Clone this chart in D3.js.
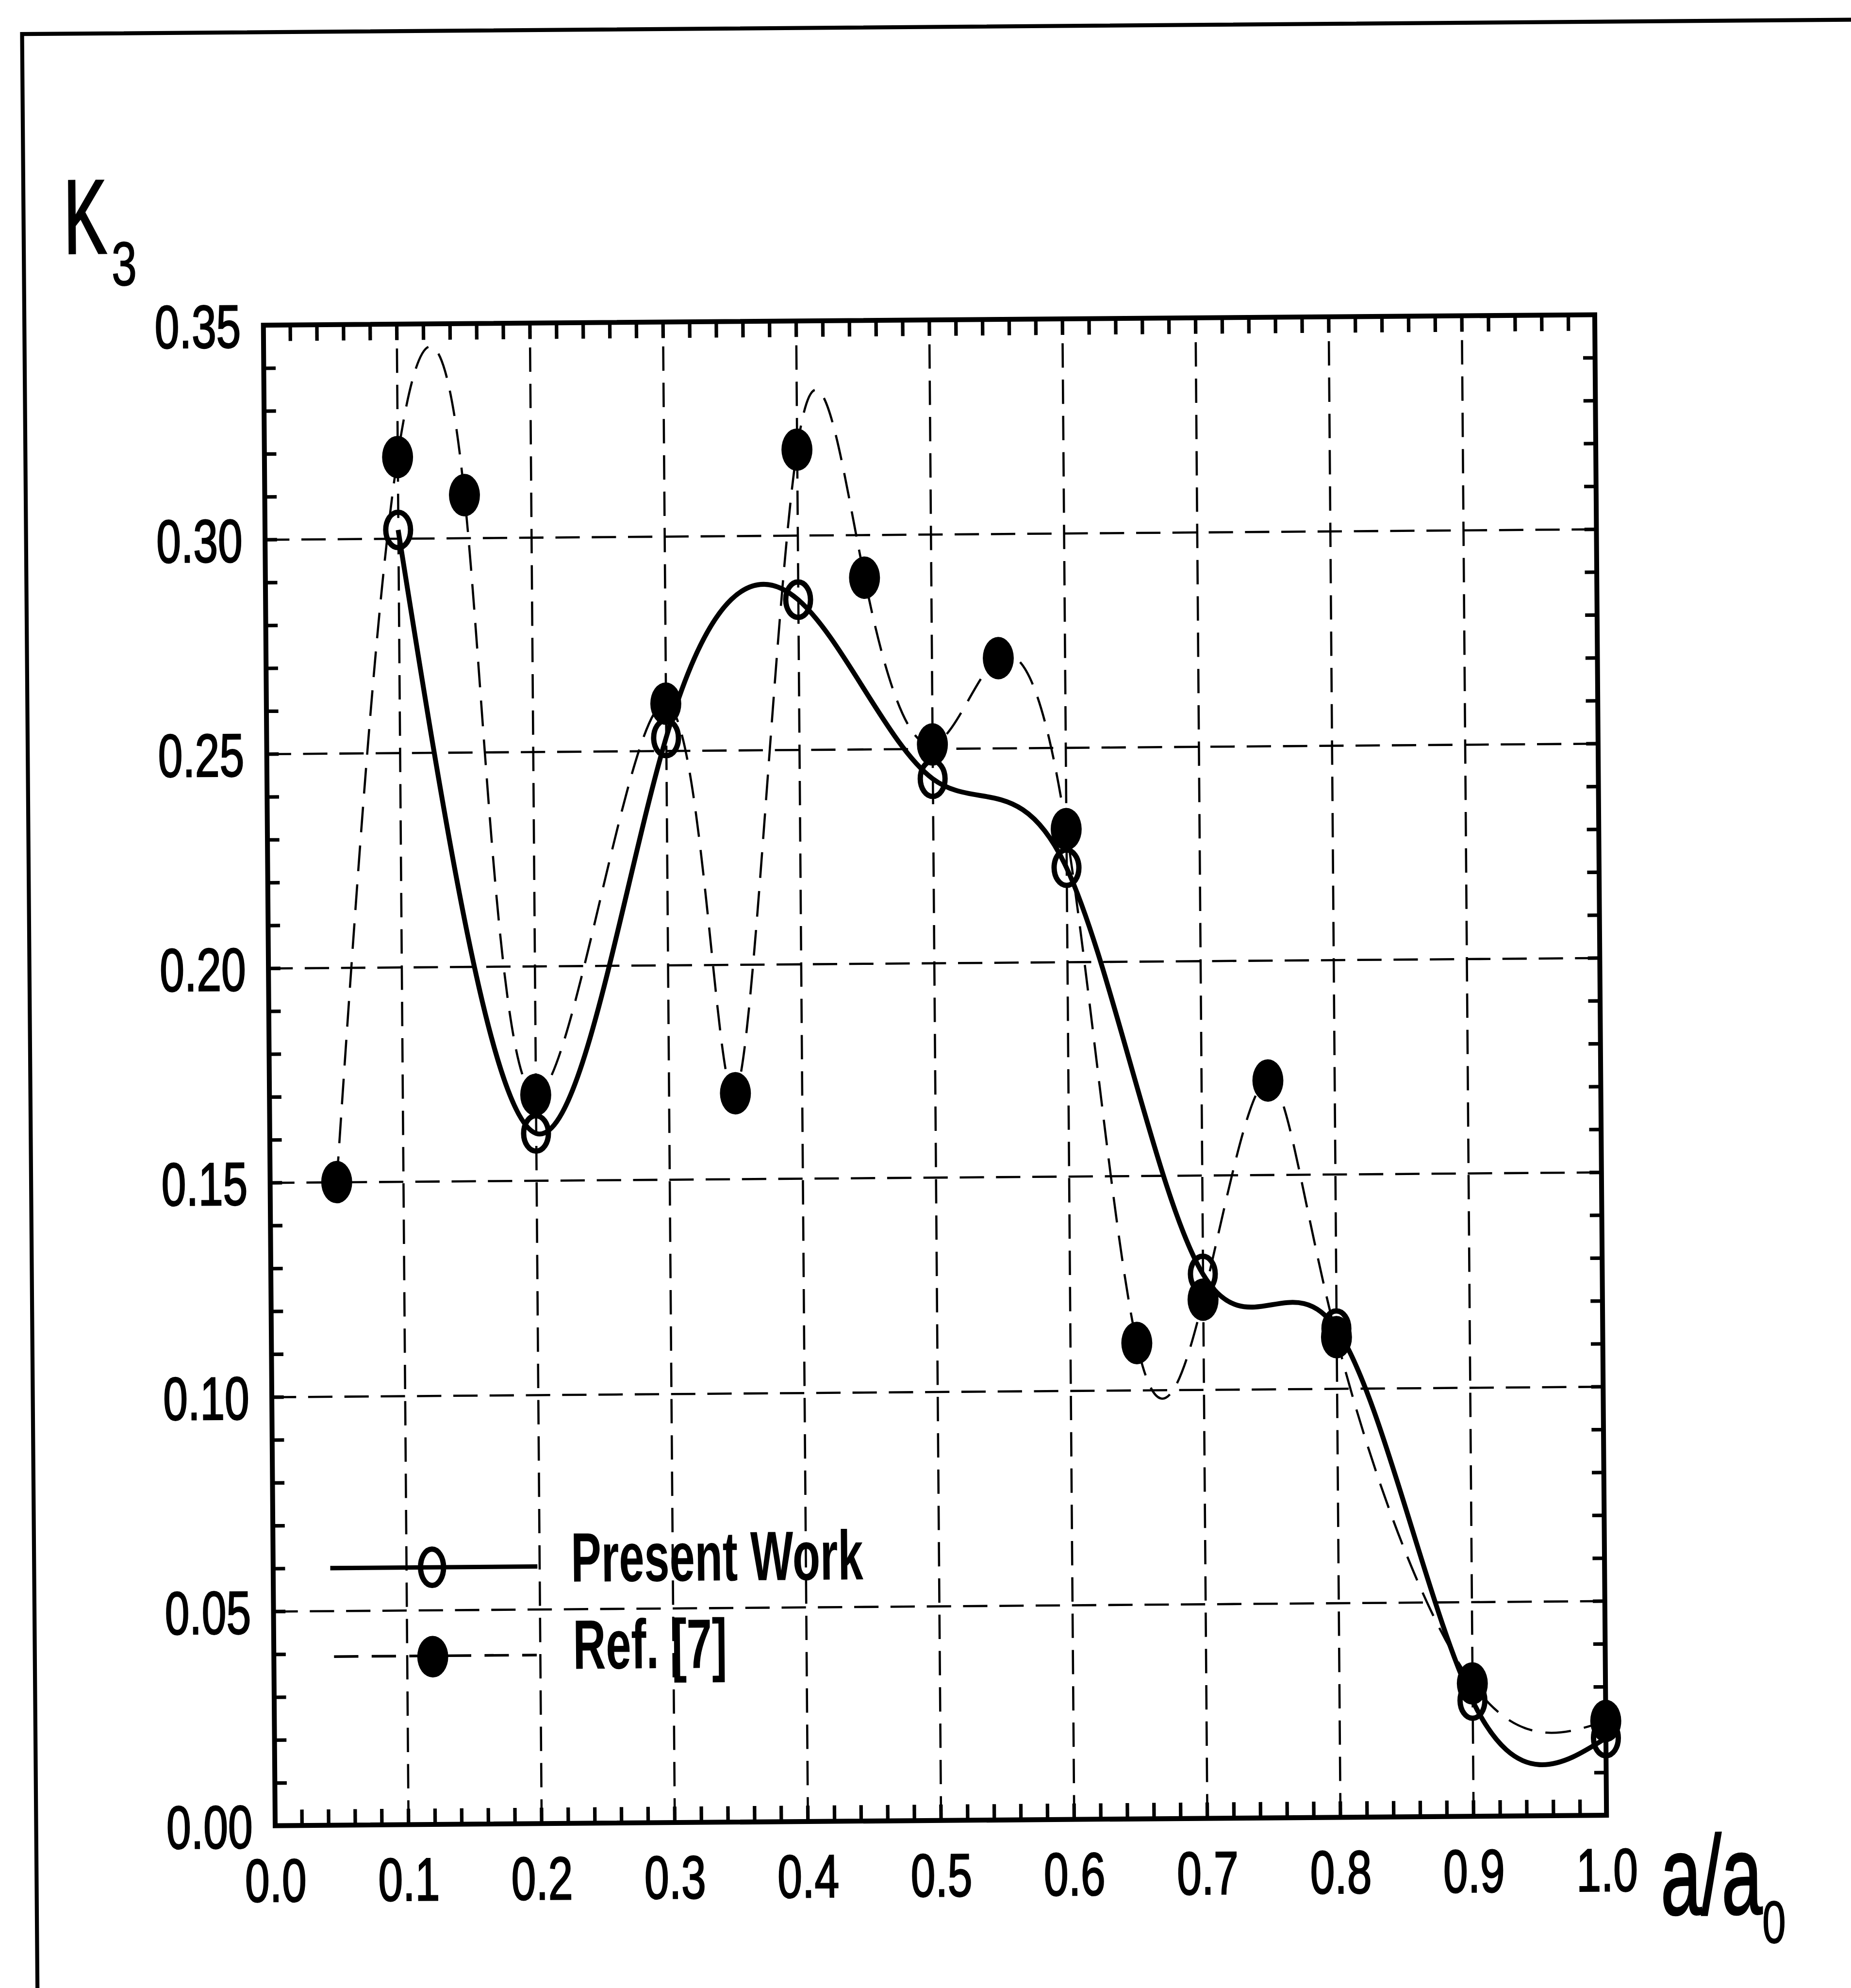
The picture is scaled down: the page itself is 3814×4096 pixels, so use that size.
<!DOCTYPE html>
<html>
<head>
<meta charset="utf-8">
<script src="https://cdn.jsdelivr.net/npm/d3@7"></script>
<style>
  html, body { margin: 0; padding: 0; background: #fff; }
  svg { display: block; }
  text { font-family: "Liberation Sans", Arial, Helvetica, sans-serif; fill: #000; }
</style>
</head>
<body>
<script>
// ---- data ----
const xTickLabels = ["0.0","0.1","0.2","0.3","0.4","0.5","0.6","0.7","0.8","0.9","1.0"];
const yTickLabels = ["0.00","0.05","0.10","0.15","0.20","0.25","0.30","0.35"];

const presentX  = [0.1, 0.2, 0.3, 0.4, 0.5, 0.6, 0.7, 0.8, 0.9, 1.0];
const presentK3 = [0.302, 0.161, 0.253, 0.285, 0.243, 0.222, 0.127, 0.114, 0.027, 0.018];

const refX  = [0.05, 0.1, 0.15, 0.2, 0.3, 0.35, 0.4, 0.45, 0.5, 0.55, 0.6, 0.65, 0.7, 0.75, 0.8, 0.9, 1.0];
const refK3 = [0.150, 0.319, 0.310, 0.170, 0.261, 0.170, 0.320, 0.290, 0.251, 0.271, 0.231, 0.111, 0.121, 0.172, 0.112, 0.031, 0.022];

const legendLabels = ["Present Work", "Ref. [7]"];
const yTitle = "K", yTitleSub = "3";
const xTitle = "a/a", xTitleSub = "0";

// ---- layout (reference pixel units, scaled to the window) ----
const S = 0.912;
const X0 = 607, X1 = 3615, Y0 = 723, Y1 = 4113;

const svg = d3.select("body").append("svg")
  .attr("width", 3814).attr("height", 4096);
const root = svg.append("g").attr("transform", `scale(${S})`);
root.append("rect").attr("x", 0).attr("y", 0).attr("width", 4180).attr("height", 4489).attr("fill", "#fff");
const g = root.append("g").attr("transform", "rotate(-0.45 2090 2244)");

// outer frame (scan border)
g.append("path")
  .attr("d", "M67,4700 L67,61 L4400,61")
  .attr("fill", "none").attr("stroke", "#000").attr("stroke-width", 9);

const x = d3.scaleLinear().domain([0, 1]).range([X0, X1]);
const y = d3.scaleLinear().domain([0, 0.35]).range([Y1, Y0]);

const xVals = xTickLabels.map(Number);
const yVals = yTickLabels.map(Number);

function clean(sel) {
  sel.select(".domain").remove();
  sel.attr("font-family", null).attr("font-size", null);
}

// grid lines (dashed)
const gx = g.append("g").attr("transform", `translate(0,${Y1})`)
  .call(d3.axisBottom(x).tickValues(xVals.filter(v => v > 0 && v < 1)).tickSize(-(Y1 - Y0)).tickFormat(""));
clean(gx);
gx.selectAll("line").attr("stroke", "#000").attr("stroke-width", 5).attr("stroke-dasharray", "55,27");

const gy = g.append("g").attr("transform", `translate(${X0},0)`)
  .call(d3.axisLeft(y).tickValues(yVals.filter(v => v > 0 && v < 0.35)).tickSize(-(X1 - X0)).tickFormat(""));
clean(gy);
gy.selectAll("line").attr("stroke", "#000").attr("stroke-width", 5).attr("stroke-dasharray", "55,27");

// minor ticks on all four sides, pointing inward
const xMinor = d3.range(1, 50).map(i => i / 50);
const yMinor = d3.range(1, 35).map(i => i / 100);
const tB = g.append("g").attr("transform", `translate(0,${Y1})`).call(d3.axisBottom(x).tickValues(xMinor).tickSize(-36).tickFormat(""));
const tT = g.append("g").attr("transform", `translate(0,${Y0})`).call(d3.axisTop(x).tickValues(xMinor).tickSize(-36).tickFormat(""));
const tL = g.append("g").attr("transform", `translate(${X0},0)`).call(d3.axisLeft(y).tickValues(yMinor).tickSize(-27).tickFormat(""));
const tR = g.append("g").attr("transform", `translate(${X1},0)`).call(d3.axisRight(y).tickValues(yMinor).tickSize(-27).tickFormat(""));
[tB, tT, tL, tR].forEach(s => { clean(s); s.selectAll("line").attr("stroke", "#000").attr("stroke-width", 8); });

// frame
g.append("rect").attr("x", X0).attr("y", Y0).attr("width", X1 - X0).attr("height", Y1 - Y0)
  .attr("fill", "none").attr("stroke", "#000").attr("stroke-width", 11);

// tick labels
const SX = 0.73;
const lx = g.append("g").attr("transform", `translate(0,${Y1})`)
  .call(d3.axisBottom(x).tickValues(xVals).tickSize(0).tickPadding(74).tickFormat((d, i) => xTickLabels[i]));
clean(lx);
lx.selectAll("text").attr("font-size", 137).attr("transform", `scale(${SX},1)`)
  .attr("stroke", "#000").attr("stroke-width", 3);

const ly = g.append("g").attr("transform", `translate(${X0},0)`)
  .call(d3.axisLeft(y).tickValues(yVals).tickSize(0).tickPadding(51).tickFormat((d, i) => yTickLabels[i]));
clean(ly);
ly.selectAll("text").attr("font-size", 137).attr("x", -51 / SX).attr("dy", "0.36em")
  .attr("transform", `scale(${SX},1)`).attr("stroke", "#000").attr("stroke-width", 3);

// curves
const line = d3.line().x(d => x(d[0])).y(d => y(d[1])).curve(d3.curveNatural);
const refPts = refX.map((v, i) => [v, refK3[i]]);
const presPts = presentX.map((v, i) => [v, presentK3[i]]);

g.append("path").datum(refPts).attr("d", line)
  .attr("fill", "none").attr("stroke", "#000").attr("stroke-width", 5).attr("stroke-dasharray", "58,30");
g.append("path").datum(presPts).attr("d", line)
  .attr("fill", "none").attr("stroke", "#000").attr("stroke-width", 11).attr("stroke-linejoin", "round");

// markers
g.append("g").selectAll("ellipse").data(refPts).join("ellipse")
  .attr("cx", d => x(d[0])).attr("cy", d => y(d[1]))
  .attr("rx", 35).attr("ry", 48).attr("fill", "#000");
g.append("g").selectAll("ellipse").data(presPts).join("ellipse")
  .attr("cx", d => x(d[0])).attr("cy", d => y(d[1]))
  .attr("rx", 28).attr("ry", 40).attr("fill", "none").attr("stroke", "#000").attr("stroke-width", 12);

// legend
const leg = g.append("g");
leg.append("line").attr("x1", 736).attr("x2", 1204).attr("y1", 3532).attr("y2", 3532)
  .attr("stroke", "#000").attr("stroke-width", 10);
leg.append("ellipse").attr("cx", 966).attr("cy", 3532).attr("rx", 26).attr("ry", 41)
  .attr("fill", "none").attr("stroke", "#000").attr("stroke-width", 12);
leg.append("line").attr("x1", 743).attr("x2", 1201).attr("y1", 3732).attr("y2", 3732)
  .attr("stroke", "#000").attr("stroke-width", 6).attr("stroke-dasharray", "55,30");
leg.append("ellipse").attr("cx", 966).attr("cy", 3734).attr("rx", 35).attr("ry", 47).attr("fill", "#000");

function stext(parent, str, tx, ty, size, sx, weight) {
  const gg = parent.append("g").attr("transform", `translate(${tx},${ty}) scale(${sx},1)`);
  gg.append("text").attr("x", 0).attr("y", 0).attr("font-size", size)
    .attr("font-weight", weight || "normal").text(str);
  return gg;
}
stext(leg, legendLabels[0], 1280, 3567, 158, 0.65, "bold");
stext(leg, legendLabels[1], 1283, 3764, 158, 0.65, "bold");

// axis titles
stext(g, yTitle, 158, 557, 237, 0.61, "normal").select("text")
  .attr("stroke", "#000").attr("stroke-width", 5);
stext(g, yTitleSub, 265, 630, 140, 0.73, "normal").select("text")
  .attr("stroke", "#000").attr("stroke-width", 2);
stext(g, xTitle, 3736, 4338, 254, 0.65, "normal").select("text")
  .attr("stroke", "#000").attr("stroke-width", 4);
stext(g, xTitleSub, 3965, 4404, 135, 0.71, "normal").select("text")
  .attr("stroke", "#000").attr("stroke-width", 2);
</script>
</body>
</html>
